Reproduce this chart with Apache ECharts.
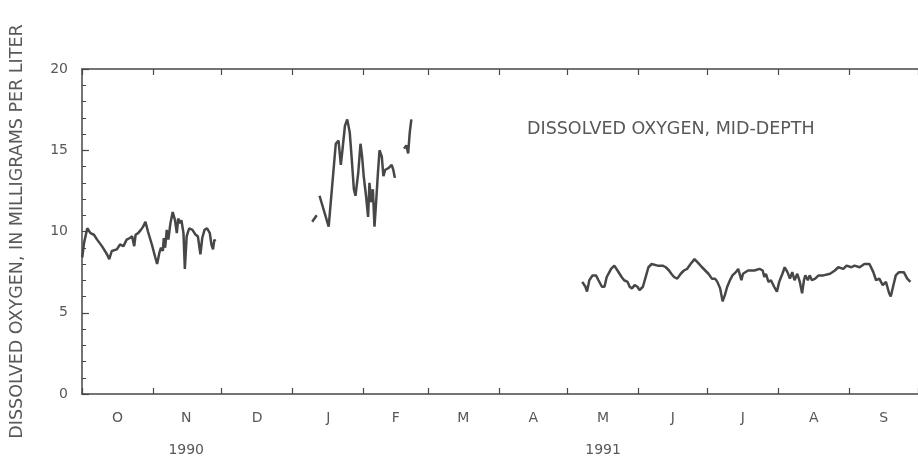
<!DOCTYPE html>
<html>
<head>
<meta charset="utf-8">
<script src="https://cdn.jsdelivr.net/npm/echarts@6/dist/echarts.min.js"></script>
<style>
html, body { margin: 0; padding: 0; background: #fff; }
#chart { width: 918px; height: 458px; }
</style>
</head>
<body>
<div id="chart"></div>
<script>
// days counted from 1 Oct 1990 (water year 1991)
var monthStarts = [0, 31, 61, 92, 123, 151, 182, 212, 243, 273, 304, 335, 365];
var monthMids = [15.5, 45.5, 76.5, 107.5, 137, 166.5, 197, 227.5, 258, 288.5, 319.5, 350];
var monthLabels = ['O', 'N', 'D', 'J', 'F', 'M', 'A', 'M', 'J', 'J', 'A', 'S'];
var yearLabels = ['', '1990', '', '', '', '', '', '1991', '', '', '', ''];

// Oct - Nov 1990
var fallDays = [0.1, 0.9, 2.3, 3.7, 5.2, 6.6, 8.7, 10.9, 11.9, 13.0, 15.2, 16.6, 18.1, 19.5, 20.9, 21.9, 22.8, 23.4,
  24.5, 25.7, 26.7, 27.7, 28.8, 30.5, 32.0, 32.8, 33.8, 34.5, 35.3, 35.7, 36.3, 37.0, 37.7, 38.6, 39.6, 40.6, 41.4,
  42.0, 42.9, 43.4, 44.3, 44.9, 45.7, 46.8, 48.2, 49.6, 50.6, 51.7, 52.5, 53.5, 54.6, 55.8, 56.5, 57.2, 57.8, 58.2];
var fallDO = [8.4, 9.3, 10.2, 9.9, 9.8, 9.5, 9.1, 8.6, 8.3, 8.8, 8.9, 9.2, 9.1, 9.5, 9.6, 9.7, 9.1, 9.8,
  9.9, 10.1, 10.3, 10.6, 10.0, 9.2, 8.4, 8.0, 8.7, 9.0, 8.8, 9.6, 9.0, 10.1, 9.5, 10.5, 11.2, 10.7, 9.9,
  10.8, 10.5, 10.7, 9.9, 7.7, 9.7, 10.2, 10.1, 9.8, 9.7, 8.6, 9.6, 10.1, 10.2, 9.9, 9.2, 8.9, 9.5, 9.4];

// Jan - Feb 1991 (three short pieces)
var winterDaysA = [100.5, 102.5];
var winterDOA = [10.6, 11.0];
var winterDaysB = [103.7, 107.7, 110.8, 112.0, 113.0, 113.7, 114.8, 115.8, 116.9, 117.7, 118.7, 119.4, 120.6,
  121.6, 122.3, 123.0, 124.0, 124.9, 125.5, 126.3, 127.0, 127.7, 128.5, 129.2, 129.9, 130.9, 131.6, 132.4,
  133.8, 135.2, 135.9, 136.6];
var winterDOB = [12.2, 10.3, 15.4, 15.6, 14.1, 15.0, 16.5, 16.9, 16.1, 14.6, 12.6, 12.2, 13.6,
  15.4, 14.6, 13.4, 12.2, 10.9, 13.0, 11.8, 12.6, 10.3, 12.0, 13.6, 15.0, 14.6, 13.4, 13.8,
  13.9, 14.1, 13.8, 13.3];
var winterDaysC = [140.6, 141.6, 142.4, 143.1, 143.8];
var winterDOC = [15.1, 15.3, 14.8, 16.1, 16.9];

// May - Sep 1991
var summerDays = [218.4, 219.8, 220.5, 221.5, 222.9, 224.4, 225.5, 227.0, 228.1, 229.1, 231.0, 232.4, 233.8,
  235.6, 236.7, 238.2, 239.1, 240.1, 241.3, 242.5, 243.4, 244.9, 246.3, 247.3, 248.7, 251.3, 253.5, 254.9,
  256.3, 257.3, 258.5, 259.9, 261.4, 262.8, 264.2, 265.7, 267.4, 268.8, 270.7, 272.1, 273.5, 275.0, 276.4,
  277.4, 278.6, 279.7, 280.7, 281.7, 282.9, 284.0, 285.5, 286.5, 287.9, 288.6, 290.8, 293.6, 295.8, 297.2,
  297.9, 298.6, 299.7, 300.8, 302.2, 303.4, 304.4, 305.8, 306.8, 308.0, 309.1, 310.1, 311.1, 312.3, 313.4,
  314.4, 315.2, 315.8, 316.9, 317.7, 318.7, 320.1, 321.6, 323.7, 326.6, 328.7, 330.2, 332.4, 333.8, 335.9,
  337.3, 339.5, 341.6, 343.8, 344.5, 345.5, 346.7, 348.1, 349.6, 351.0, 352.4, 353.1, 354.1, 355.3, 356.7,
  358.8, 360.3, 361.7];
var summerDO = [6.9, 6.6, 6.3, 7.0, 7.3, 7.3, 7.0, 6.6, 6.6, 7.2, 7.7, 7.9, 7.6,
  7.2, 7.0, 6.9, 6.6, 6.5, 6.7, 6.6, 6.4, 6.6, 7.3, 7.8, 8.0, 7.9, 7.9, 7.8,
  7.6, 7.4, 7.2, 7.1, 7.4, 7.6, 7.7, 8.0, 8.3, 8.1, 7.8, 7.6, 7.4, 7.1, 7.1,
  6.9, 6.5, 5.7, 6.1, 6.6, 7.0, 7.3, 7.5, 7.7, 7.0, 7.4, 7.6, 7.6, 7.7, 7.6,
  7.2, 7.4, 6.9, 7.0, 6.6, 6.3, 6.9, 7.4, 7.8, 7.5, 7.1, 7.5, 7.0, 7.4, 6.9,
  6.2, 7.0, 7.3, 7.0, 7.3, 7.0, 7.1, 7.3, 7.3, 7.4, 7.6, 7.8, 7.7, 7.9, 7.8,
  7.9, 7.8, 8.0, 8.0, 8.1, 7.5, 7.0, 7.1, 6.7, 6.9, 6.2, 6.0, 6.6, 7.3, 7.5,
  7.5, 7.1, 6.9];

function pairs(days, vals) {
  return days.map(function (d, i) { return [d, vals[i]]; });
}

var ink = '#474747';
var textInk = '#585858';
var font = '"DejaVu Sans", Arial, sans-serif';

function piece(days, vals) {
  return {
    type: 'line',
    data: pairs(days, vals),
    showSymbol: false,
    symbol: 'none',
    clip: false,
    lineStyle: { color: ink, width: 2.5 },
    animation: false
  };
}

var myChart = echarts.init(document.getElementById('chart'));

myChart.setOption({
  animation: false,
  grid: { left: 79, top: 69, width: 849, bottom: 63 },
  xAxis: [
    {
      type: 'value',
      min: 0,
      max: 365,
      position: 'bottom',
      axisLine: { lineStyle: { color: ink, width: 1.5 } },
      axisTick: { inside: true, length: 6, customValues: monthStarts, lineStyle: { color: ink, width: 1.2 } },
      splitLine: { show: false },
      axisLabel: {
        customValues: monthMids,
        margin: 16,
        color: textInk,
        fontFamily: font,
        fontSize: 14,
        lineHeight: 16,
        formatter: function (v) {
          var i = monthMids.indexOf(v);
          if (i < 0) return '';
          return yearLabels[i] ? monthLabels[i] + '\n\n' + yearLabels[i] : monthLabels[i];
        }
      }
    },
    {
      type: 'value',
      min: 0,
      max: 365,
      position: 'top',
      axisLine: { lineStyle: { color: ink, width: 1.5 } },
      axisTick: { inside: true, length: 6, customValues: monthStarts, lineStyle: { color: ink, width: 1.2 } },
      axisLabel: { show: false },
      splitLine: { show: false }
    }
  ],
  yAxis: {
    type: 'value',
    min: 0,
    max: 20,
    interval: 5,
    name: 'DISSOLVED OXYGEN, IN MILLIGRAMS PER LITER',
    nameLocation: 'middle',
    nameRotate: 90,
    nameGap: 56,
    nameTextStyle: { color: textInk, fontSize: 17.5, fontFamily: font },
    axisLine: { show: true, lineStyle: { color: ink, width: 1.5 } },
    axisTick: { inside: true, length: 7, lineStyle: { color: ink, width: 1.2 } },
    minorTick: { show: true, splitNumber: 5, length: 4, lineStyle: { color: ink, width: 1 } },
    splitLine: { show: false },
    axisLabel: { margin: 14, color: textInk, fontSize: 14, fontFamily: font }
  },
  graphic: [
    {
      type: 'text',
      left: 527,
      top: 120,
      style: {
        text: 'DISSOLVED OXYGEN, MID-DEPTH',
        fill: textInk,
        font: '17.5px "DejaVu Sans", Arial, sans-serif'
      }
    }
  ],
  series: [
    piece(fallDays, fallDO),
    piece(winterDaysA, winterDOA),
    piece(winterDaysB, winterDOB),
    piece(winterDaysC, winterDOC),
    piece(summerDays, summerDO)
  ]
});
</script>
</body>
</html>
